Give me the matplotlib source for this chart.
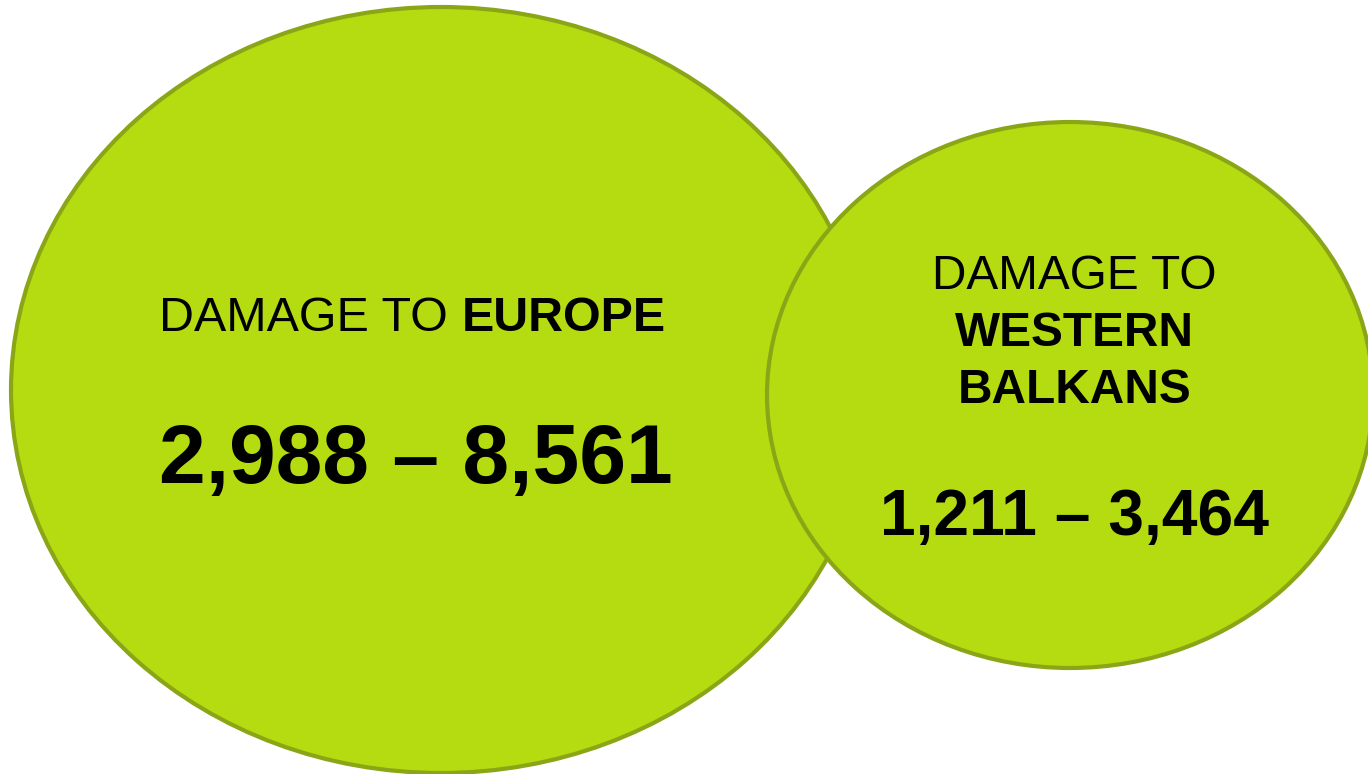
import matplotlib
matplotlib.use("Agg")
import matplotlib.pyplot as plt
from matplotlib.patches import Ellipse

# Data
prefix = "DAMAGE TO"
regions = ["EUROPE", "WESTERN\nBALKANS"]
low_values = [2988, 1211]
high_values = [8561, 3464]

# Layout (pixel coordinates, y downward)
centers = [(441, 390), (1070, 395)]
sizes = [(860, 766), (606, 546)]
fill = "#b5dc10"
edge = "#8aa617"

plt.rcParams['font.family'] = ['Liberation Sans', 'DejaVu Sans']

fig = plt.figure(figsize=(13.68, 7.74), dpi=100)
ax = fig.add_axes([0, 0, 1, 1])
ax.set_xlim(0, 1368)
ax.set_ylim(774, 0)
ax.axis('off')

for (cx, cy), (w, h) in zip(centers, sizes):
    ax.add_patch(Ellipse((cx, cy), w, h, facecolor=fill, edgecolor=edge, linewidth=3))

def fmt(lo, hi):
    return f"{lo:,} \u2013 {hi:,}"

fig.canvas.draw()
renderer = fig.canvas.get_renderer()

def text_width(s, **kw):
    t = ax.text(0, 0, s, **kw)
    w = t.get_window_extent(renderer).width
    t.remove()
    return w

# Europe: mixed regular + bold on one line
fs1 = 34.8
w_reg = text_width(prefix + " ", fontsize=fs1)
w_bold = text_width(regions[0], fontsize=fs1, fontweight='bold')
x0 = 412.5 - (w_reg + w_bold) / 2
ax.text(x0, 331, prefix + " ", fontsize=fs1, ha='left', va='baseline')
ax.text(x0 + w_reg, 331, regions[0], fontsize=fs1, fontweight='bold',
        ha='left', va='baseline')
ax.text(415.5, 483, fmt(low_values[0], high_values[0]), fontsize=60.5, fontweight='bold',
        ha='center', va='baseline')

# Western Balkans
cx2 = 1074.5
ax.text(cx2, 289, prefix, fontsize=34.4, ha='center', va='baseline')
line_base = [346, 403]
for line, yb in zip(regions[1].split("\n"), line_base):
    ax.text(cx2, yb, line, fontsize=34.4, fontweight='bold', ha='center', va='baseline')
ax.text(cx2, 535, fmt(low_values[1], high_values[1]), fontsize=46.2, fontweight='bold',
        ha='center', va='baseline')

fig.savefig("out.png", dpi=100)
